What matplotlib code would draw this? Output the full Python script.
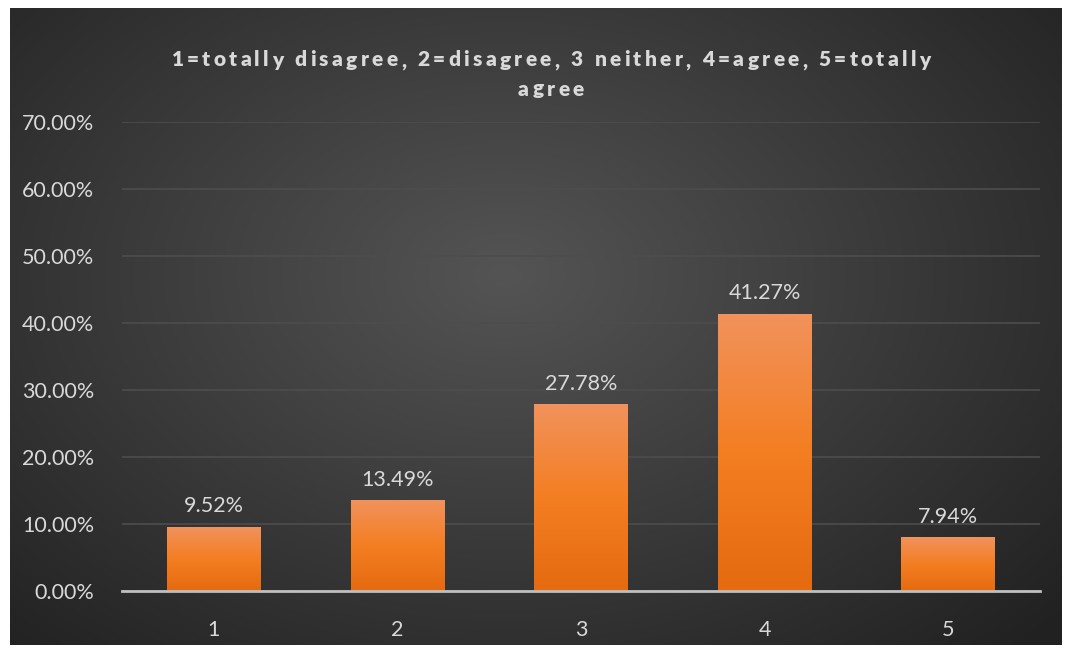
import numpy as np
import matplotlib.pyplot as plt
from matplotlib.ticker import FuncFormatter

categories = ["1", "2", "3", "4", "5"]
shares = [9.52, 13.49, 27.78, 41.27, 7.94]
title_lines = ["1=totally disagree, 2=disagree, 3 neither, 4=agree, 5=totally", "agree"]

plt.rcParams['font.family'] = ['Lato', 'DejaVu Sans']
text_col = '#d9d9d9'

W, H = 1065, 648
fig = plt.figure(figsize=(W / 100, H / 100), dpi=100, facecolor='white')

# dark panel with a soft radial light in the middle
bg = fig.add_axes([10 / W, 1 - 645 / H, 1052 / W, 637 / H])
yy, xx = np.mgrid[0:1:400j, 0:1:700j]
r = np.sqrt(((xx - 0.47) / 0.75) ** 2 + ((yy - 0.42) / 0.85) ** 2)
shade = np.clip(0.33 - 0.21 * r, 0.13, 0.33)
bg.imshow(np.dstack([shade] * 3), aspect='auto', extent=[0, 1, 0, 1], origin='upper')
bg.set_axis_off()

ax = fig.add_axes([122 / W, 1 - 591 / H, 918 / W, 469 / H])
ax.patch.set_alpha(0)
x = np.arange(len(categories))

grad = np.linspace(0, 1, 256).reshape(-1, 1)
top = np.array([0xf1, 0x92, 0x5c]) / 255
mid = np.array([0xf4, 0x7e, 0x22]) / 255
bot = np.array([0xe5, 0x6a, 0x10]) / 255
cols = np.where(grad[..., None] < 0.5,
                top + (mid - top) * (grad[..., None] / 0.5),
                mid + (bot - mid) * ((grad[..., None] - 0.5) / 0.5))

width = 0.51
for xi, v in zip(x, shares):
    ax.imshow(cols, aspect='auto', extent=[xi - width / 2, xi + width / 2, 0, v],
              origin='upper', zorder=3)
    ax.annotate(f"{v:.2f}%", (xi, v), xytext=(0, 8), textcoords='offset points',
                ha='center', va='bottom', color=text_col, fontsize=15.5)
ax.set_xlim(-0.5, len(categories) - 0.5)
ax.set_ylim(0, 70)

ax.set_yticks(np.arange(0, 71, 10))
ax.yaxis.set_major_formatter(FuncFormatter(lambda v, p: f"{v:.2f}%"))
ax.set_xticks(x)
ax.set_xticklabels(categories)
ax.grid(axis='y', color='#4d4d4d', linewidth=1.2, zorder=0)
ax.set_axisbelow(True)
ax.tick_params(colors=text_col, labelsize=15.5, length=0)
ax.tick_params(axis='y', pad=20)
ax.tick_params(axis='x', pad=21)
for s in ['top', 'right', 'left']:
    ax.spines[s].set_visible(False)
ax.spines['bottom'].set_color('#bfbfbf')
ax.spines['bottom'].set_linewidth(2)
ax.spines['bottom'].set_zorder(4)


def spaced_text(line, cx, cy, spacing, **kw):
    # draw a line of text with extra tracking between characters
    fig.canvas.draw()
    rend = fig.canvas.get_renderer()
    widths = []
    for ch in line:
        t = fig.text(0, 0, ch if ch != ' ' else 'a', **kw)
        w = t.get_window_extent(rend).width
        if ch == ' ':
            t2 = fig.text(0, 0, 'a a', **kw)
            t3 = fig.text(0, 0, 'aa', **kw)
            w = t2.get_window_extent(rend).width - t3.get_window_extent(rend).width
            t2.remove()
            t3.remove()
        t.remove()
        widths.append(w + spacing)
    total = sum(widths) - spacing
    pos = cx - total / 2
    for ch, w in zip(line, widths):
        fig.text(pos / W, 1 - cy / H, ch, ha='left', va='center', **kw)
        pos += w


title_kw = dict(color=text_col, fontsize=15, fontweight='heavy')
spaced_text(title_lines[0], 551, 60, 3.3, **title_kw)
spaced_text(title_lines[1], 551, 89, 3.3, **title_kw)

fig.savefig('out.png', dpi=100, facecolor='white')
